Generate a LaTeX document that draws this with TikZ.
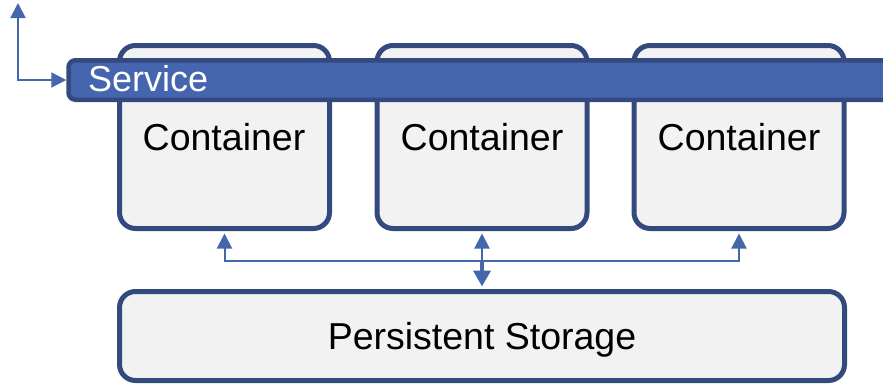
\documentclass[tikz,border=0pt]{standalone}
\usepackage{fontspec}
\setmainfont{Liberation Sans}
\usetikzlibrary{arrows.meta}
\definecolor{bordc}{HTML}{34497D}
\definecolor{svcfill}{HTML}{4566AE}
\definecolor{arrc}{HTML}{4466AA}
\definecolor{boxfill}{HTML}{F2F2F2}
\tikzset{
  box/.style={draw=bordc, fill=boxfill, line width=5pt, rounded corners=16pt, inner sep=0pt},
  lbl/.style={font=\fontsize{37.5}{40}\selectfont, anchor=base, inner sep=0pt},
  svc/.style={draw=bordc, fill=svcfill, line width=4.5pt, rounded corners=7pt, inner sep=0pt, anchor=west},
  svclbl/.style={font=\fontsize{36}{40}\selectfont, text=white, anchor=base west, inner sep=0pt},
  conn/.style={draw=arrc, line width=2pt, {Triangle[length=15pt,width=15pt]}-{Triangle[length=15pt,width=15pt]}},
  connup/.style={draw=arrc, line width=2pt, -{Triangle[length=15pt,width=15pt]}},
  conndown/.style={draw=arrc, line width=4pt, -{Triangle[length=16pt,width=17pt]}},
}
\begin{document}
\begin{tikzpicture}[x=1pt,y=-1pt]
\useasboundingbox (0,0) rectangle (883,384);
\node[box, minimum width=210pt, minimum height=183pt] (c1) at (224.5,137) {};
\node[box, minimum width=210pt, minimum height=183pt] (c2) at (482,137) {};
\node[box, minimum width=210pt, minimum height=183pt] (c3) at (739,137) {};
\node[lbl] (t1) at (224,150) {Container};
\node[lbl] (t2) at (482,150) {Container};
\node[lbl] (t3) at (739,150) {Container};
\node[box, minimum width=725pt, minimum height=89pt] (st) at (482,336) {};
\node[lbl] (ts) at (482,349) {Persistent Storage};
\node[svc, minimum width=850pt, minimum height=39.5pt] (sv) at (66.25,80) {};
\node[svclbl] (tsv) at (88,91) {Service};
\coordinate (tl) at (18,3);
\coordinate (bus) at (0,261);
\draw[conn] (tl) |- (sv.west);
\draw[conn, shorten <=2.5pt, shorten >=2.5pt] (c1.south) -- (c1.south |- bus) -- (c3.south |- bus) -- (c3.south);
\draw[connup, shorten >=2.5pt] (c2.south |- bus) -- (c2.south);
\draw[conndown, shorten >=2.5pt] (c2.south |- bus) -- (st.north);
\end{tikzpicture}
\end{document}
